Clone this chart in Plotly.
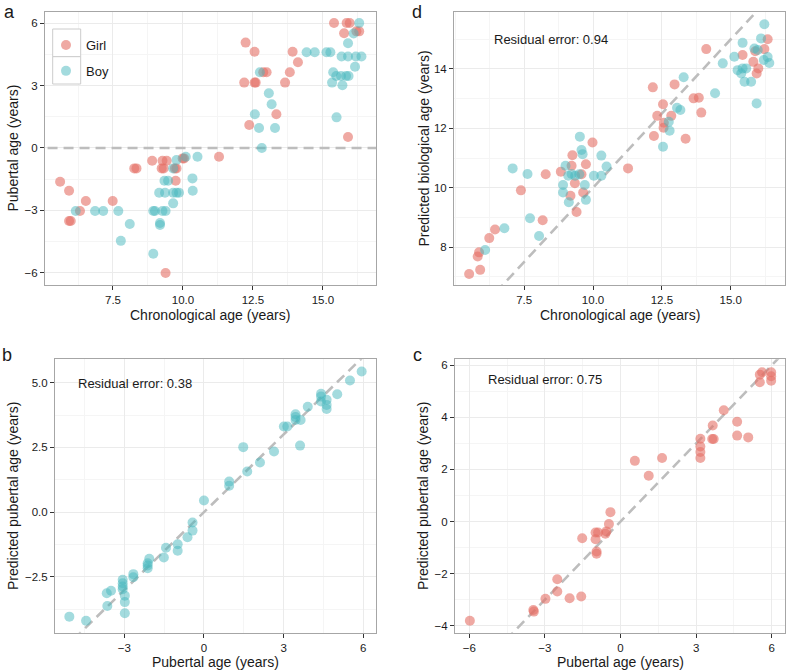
import plotly.graph_objects as go

W, H = 787, 671

# ---------------- data ----------------
# Panel a: chronological age vs pubertal age
a_girl_age = [15.40, 15.85, 15.96, 15.76, 16.20, 16.30, 12.24, 12.56, 13.92, 14.11, 13.82, 12.19, 12.56, 12.60,
              12.87, 12.99, 13.65, 13.34, 12.37, 15.90, 5.61, 5.93, 6.53, 7.49, 6.32, 5.93, 5.99, 8.26, 8.34,
              8.90, 9.27, 9.42, 9.24, 9.31, 9.71, 9.77, 9.99, 10.04, 9.74, 11.29, 9.38]
a_girl_pub = [6.0, 6.0, 6.0, 5.51, 5.6, 5.6, 5.06, 4.62, 4.62, 4.12, 3.64, 3.14, 3.14, 3.14,
              3.64, 3.64, 3.14, 1.62, 1.10, 0.53, -1.62, -2.05, -2.55, -2.55, -3.03, -3.51, -3.51, -0.98, -0.98,
              -0.61, -0.61, -0.61, -0.98, -0.98, -0.98, -0.98, -0.50, -0.50, -1.57, -0.42, -6.0]
a_boy_age = [16.30, 16.10, 15.90, 14.42, 14.71, 15.13, 15.27, 15.67, 15.90, 16.18, 16.38, 16.15, 12.75, 15.37,
             15.48, 15.65, 15.83, 15.92, 15.33, 15.70, 13.07, 13.17, 12.57, 12.72, 13.29, 15.49, 12.82,
             6.17, 6.86, 7.15, 7.69, 8.10, 7.78, 8.94, 8.94, 9.00, 9.27, 9.38, 9.18, 9.18, 9.15, 9.36, 9.65,
             9.86, 9.77, 9.34, 9.47, 9.65, 10.34, 10.35, 9.77, 10.10, 10.52, 9.65]
a_boy_pub = [6.0, 5.5, 5.03, 4.6, 4.6, 4.6, 4.6, 4.39, 4.39, 4.39, 4.39, 3.9, 3.64, 3.64,
             3.46, 3.46, 3.46, 3.46, 3.14, 3.01, 2.63, 2.10, 1.62, 0.96, 0.96, 1.47, 0.0,
             -3.03, -3.03, -3.03, -3.03, -3.65, -4.46, -5.08, -3.03, -3.03, -3.03, -3.03, -3.60, -3.70, -2.15, -2.15, -2.15,
             -2.15, -2.15, -1.57, -1.57, -2.66, -1.46, -2.05, -0.58, -0.42, -0.42, -0.98]

# Panel d: chronological age vs predicted biological age
d_girl_age = [16.34, 14.11, 16.22, 15.43, 15.89, 15.82, 16.00, 15.94, 12.17, 12.96, 12.54, 12.33, 12.84, 12.57,
              12.56, 12.21, 13.36, 13.65, 13.84, 13.93, 9.98, 9.25, 9.22, 9.74, 11.27, 8.28, 8.83, 9.58, 9.34,
              7.38, 9.18, 9.64, 9.40, 8.17, 6.44, 6.23, 5.86, 5.81, 5.90, 5.50]
d_girl_pred = [15.0, 14.67, 14.67, 14.47, 14.6, 14.24, 14.02, 13.85, 13.38, 13.48, 12.81, 12.42, 12.42, 12.19,
               12.02, 11.74, 11.65, 13.01, 13.03, 12.53, 11.52, 11.09, 10.74, 10.79, 10.65, 10.45, 10.54, 10.45, 10.15,
               9.91, 9.73, 9.84, 9.18, 8.90, 8.59, 8.30, 7.82, 7.68, 7.23, 7.09]
d_boy_age = [16.22, 16.10, 15.43, 15.86, 15.98, 15.13, 14.71, 16.34, 16.40, 16.20, 15.25, 15.43, 15.56, 15.38,
             15.50, 15.74, 15.94, 14.43, 13.29, 13.05, 13.17, 12.75, 12.78, 12.54, 9.52, 9.58, 9.62, 10.30,
             10.49, 9.00, 7.08, 7.62, 9.22, 9.10, 9.35, 9.50, 10.03, 10.30, 8.91, 8.91, 9.12, 9.74, 9.70,
             7.71, 6.78, 8.04, 6.08]
d_boy_pred = [15.51, 15.03, 14.88, 14.69, 14.64, 14.41, 14.19, 14.4, 14.2, 14.3, 13.96, 14.02, 14.02, 13.85,
              13.57, 13.57, 12.84, 13.18, 13.72, 12.69, 12.62, 12.22, 11.92, 11.38, 11.72, 11.27, 11.13, 11.08,
              10.71, 10.74, 10.65, 10.46, 10.46, 10.40, 10.40, 10.45, 10.40, 10.40, 10.09, 9.84, 9.51, 9.59, 10.09,
              8.97, 8.63, 8.37, 7.90]

# Panel b: boys, pubertal age vs predicted pubertal age
b_boy_pub = [5.94, 5.50, 5.02, 4.41, 4.41, 4.41, 4.62, 4.62, 4.62, 3.91, 3.45, 3.45, 3.45, 3.64, 3.01, 3.14,
             3.62, 1.48, 2.64, 2.11, 1.63, 0.95, 0.95, 0.0, -0.43, -0.43, -0.62, -0.99, -0.99, -1.43, -1.51,
             -2.06, -2.12, -2.12, -2.12, -2.66, -2.66, -3.06, -3.06, -3.06, -3.06, -3.50, -3.66, -2.98, -2.98,
             -3.64, -2.98, -5.07, -4.44]
b_boy_pred = [5.43, 5.08, 4.55, 4.57, 4.46, 4.27, 4.34, 4.14, 3.98, 4.07, 3.78, 3.67, 3.56, 3.56, 3.31, 3.31,
              2.57, 2.51, 2.34, 1.92, 1.57, 1.18, 1.02, 0.45, -0.40, -0.71, -0.97, -1.24, -1.49, -1.37, -1.75,
              -1.80, -1.97, -2.16, -2.06, -2.39, -2.51, -2.61, -2.74, -2.87, -2.97, -3.03, -3.13, -3.22, -3.47,
              -3.62, -3.90, -4.03, -4.19]

# Panel c: girls, pubertal age vs predicted pubertal age
c_girl_pub = [5.62, 5.53, 5.53, 5.98, 5.98, 5.98, 4.10, 4.63, 3.66, 4.63, 5.07, 3.64, 3.70, 3.17, 3.17, 3.17,
              3.17, 0.57, 1.65, 1.12, -0.40, -0.46, -0.56, -0.60, -0.99, -0.89, -0.99, -0.95, -0.95, -1.52,
              -2.51, -2.51, -2.98, -2.02, -1.56, -3.46, -3.44, -5.98]
c_girl_pred = [5.73, 5.64, 5.35, 5.73, 5.58, 5.41, 4.27, 3.83, 3.69, 3.30, 3.23, 3.17, 3.17, 3.18, 2.88, 2.67,
               2.44, 2.33, 2.44, 1.76, 0.36, -0.10, -0.38, -0.47, -0.42, -0.42, -0.68, -1.15, -1.24, -0.64,
               -2.22, -2.69, -2.97, -2.95, -2.88, -3.40, -3.46, -3.81]

# tick values
ticks_chrono = [7.5, 10.0, 12.5, 15.0]
ticks_pub_a = [-6, -3, 0, 3, 6]
ticks_bio = [8, 10, 12, 14]
ticks_pub_b_x = [-3, 0, 3, 6]
ticks_pub_b_y = [-2.5, 0.0, 2.5, 5.0]
ticks_pub_c_x = [-6, -3, 0, 3, 6]
ticks_pub_c_y = [-4, -2, 0, 2, 4, 6]

ref_span = [-20, 30]          # reference line extent (clipped by axes)
zero_line = [0, 0]
residuals = {"d": "0.94", "b": "0.38", "c": "0.75"}

# ---------------- style ----------------
GIRL = "rgba(228,112,102,0.6)"
BOY = "rgba(72,184,190,0.5)"
FONT = "Liberation Sans, Arial, Helvetica, sans-serif"
MS = 10

def px2x(p):
    return p / W

def px2y(p):
    return 1 - p / H

fig = go.Figure()

def add_points(x, y, color, ax, name=None, show=False, group=None):
    fig.add_trace(go.Scatter(
        x=x, y=y, mode="markers", name=name, showlegend=show, legendgroup=group,
        marker=dict(size=MS, color=color, line=dict(width=0)),
        xaxis="x" + ax, yaxis="y" + ax, hoverinfo="x+y"))

def add_line(x, y, ax):
    fig.add_trace(go.Scatter(
        x=x, y=y, mode="lines", showlegend=False,
        line=dict(color="#BDBDBD", width=2.6, dash="10px,6px"),
        xaxis="x" + ax, yaxis="y" + ax, hoverinfo="skip"))

# panel a -> axis ""(1), d -> 2, b -> 3, c -> 4
add_line(ref_span, zero_line, "")
add_points(a_girl_age, a_girl_pub, GIRL, "", "Girl", True, "g")
add_points(a_boy_age, a_boy_pub, BOY, "", "Boy", True, "b")

add_line(ref_span, ref_span, "2")
add_points(d_girl_age, d_girl_pred, GIRL, "2")
add_points(d_boy_age, d_boy_pred, BOY, "2")

add_line(ref_span, ref_span, "3")
add_points(b_boy_pub, b_boy_pred, BOY, "3")

add_line(ref_span, ref_span, "4")
add_points(c_girl_pub, c_girl_pred, GIRL, "4")

def axis(domain, rng, tickvals, minor_dtick, fmt=None, anchor=None):
    d = dict(domain=domain, range=rng, tickmode="array", tickvals=tickvals,
             showgrid=True, gridcolor="#EBEBEB", gridwidth=1, zeroline=False,
             showline=True, mirror=True, linecolor="#A6A6A6", linewidth=1,
             ticks="outside", ticklen=4, tickwidth=1, tickcolor="#333333",
             tickfont=dict(size=11.5, color="#1a1a1a", family=FONT),
             minor=dict(showgrid=True, gridcolor="#F5F5F5", gridwidth=1,
                        tickmode="linear", dtick=minor_dtick, tick0=0),
             automargin=False, anchor=anchor, fixedrange=True)
    if fmt:
        d["tickformat"] = fmt
    return d

xa = [px2x(45), px2x(376)]
xd = [px2x(454), px2x(785)]
xb = [px2x(55), px2x(376)]
xc = [px2x(455), px2x(785)]
ytop = [px2y(285), px2y(12)]
ybot = [px2y(632.7), px2y(359.3)]

fig.update_layout(
    width=W, height=H,
    margin=dict(l=0, r=0, t=0, b=0),
    paper_bgcolor="white", plot_bgcolor="white",
    font=dict(family=FONT, color="#1a1a1a"),
    xaxis=axis(xa, [5.07, 16.9], ticks_chrono, 1.25, ".1f", "y"),
    yaxis=axis(ytop, [-6.58, 6.53], ticks_pub_a, 1.5, None, "x"),
    xaxis2=axis(xd, [4.95, 16.97], ticks_chrono, 1.25, ".1f", "y2"),
    yaxis2=axis(ytop, [6.72, 15.92], ticks_bio, 1, None, "x2"),
    xaxis3=axis(xb, [-5.61, 6.48], ticks_pub_b_x, 1.5, None, "y3"),
    yaxis3=axis(ybot, [-4.65, 5.9], ticks_pub_b_y, 1.25, ".1f", "x3"),
    xaxis4=axis(xc, [-6.57, 6.53], ticks_pub_c_x, 1.5, None, "y4"),
    yaxis4=axis(ybot, [-4.27, 6.23], ticks_pub_c_y, 1, None, "x4"),
    legend=dict(x=px2x(46), y=px2y(30), xanchor="left", yanchor="top",
                bgcolor="rgba(0,0,0,0)", borderwidth=0,
                font=dict(size=13, family=FONT, color="#1a1a1a"),
                traceorder="grouped", tracegroupgap=6, itemsizing="trace"),
    showlegend=True,
)

# legend key boxes
for y0, y1 in [(29, 56.7), (56.7, 84)]:
    fig.add_shape(type="rect", xref="paper", yref="paper",
                  x0=px2x(52.7), x1=px2x(80.7), y0=px2y(y1), y1=px2y(y0),
                  line=dict(color="#CCCCCC", width=1), fillcolor="white", layer="above")

ann = []
def text(s, x, y, size, angle=0, xanchor="center", yanchor="middle"):
    ann.append(dict(text=s, x=px2x(x), y=px2y(y), xref="paper", yref="paper",
                    showarrow=False, textangle=angle, xanchor=xanchor, yanchor=yanchor,
                    font=dict(size=size, family=FONT, color="#1a1a1a")))

# axis titles
text("Chronological age (years)", 210.5, 315, 14)
text("Pubertal age (years)", 12, 148.5, 14, -90)
text("Chronological age (years)", 620, 315, 14)
text("Predicted biological age (years)", 423, 148.5, 14, -90)
text("Pubertal age (years)", 215.5, 662, 14)
text("Predicted pubertal age (years)", 13, 496, 14, -90)
text("Pubertal age (years)", 620.5, 662, 14)
text("Predicted pubertal age (years)", 423, 496, 14, -90)

# residual errors
text("Residual error: " + residuals["d"], 550.5, 40, 13)
text("Residual error: " + residuals["b"], 135, 383, 13)
text("Residual error: " + residuals["c"], 545, 379, 13)

# panel letters
text("a", 2, 0, 18, xanchor="left", yanchor="top")
text("d", 410, 0, 18, xanchor="left", yanchor="top")
text("b", 0, 343, 18, xanchor="left", yanchor="top")
text("c", 411, 343, 18, xanchor="left", yanchor="top")

fig.update_layout(annotations=ann)

fig.write_html("out.html", config={"displayModeBar": False},
               post_script="document.body.style.margin='0';document.body.style.overflow='hidden';")
